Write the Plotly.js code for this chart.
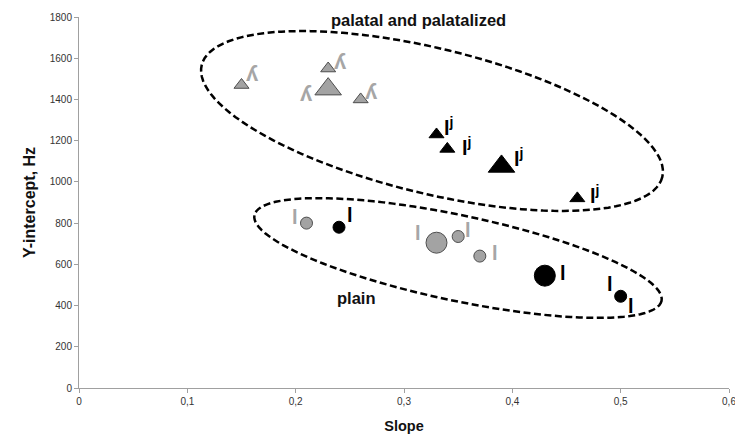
<!DOCTYPE html>
<html><head><meta charset="utf-8">
<script src="https://cdn.plot.ly/plotly-3.0.1.min.js"></script>
<style>html,body{margin:0;padding:0;background:#fff}#chart{width:735px;height:436px}</style>
</head><body><div id="chart"></div>
<script>
// ---- data (slope, y-intercept in Hz) ----
const palatalSlope = [0.15, 0.23, 0.26];
const palatalIntercept = [1470, 1550, 1400];
const palatalMeanSlope = [0.23];
const palatalMeanIntercept = [1450];

const palatalizedSlope = [0.33, 0.34, 0.46];
const palatalizedIntercept = [1230, 1160, 920];
const palatalizedMeanSlope = [0.39];
const palatalizedMeanIntercept = [1075];

const plainGreySlope = [0.21, 0.35, 0.37];
const plainGreyIntercept = [800, 735, 640];
const plainGreyMeanSlope = [0.33];
const plainGreyMeanIntercept = [705];

const plainBlackSlope = [0.24, 0.50];
const plainBlackIntercept = [780, 445];
const plainBlackMeanSlope = [0.43];
const plainBlackMeanIntercept = [545];

const xTickVals = [0, 0.1, 0.2, 0.3, 0.4, 0.5, 0.6];
const yTickVals = [0, 200, 400, 600, 800, 1000, 1200, 1400, 1600, 1800];

const labelPalatal = 'ʎ';
const labelPalatalized = 'l<sup>j</sup>';
const labelPlain = 'l';

// ---- styles ----
const W = 735, H = 436;
const M = {l: 79, r: 6, t: 17, b: 48};
const XR = [0, 0.6], YR = [0, 1800];
const GREY_TXT = '#a6a6a6';
const GREY_FILL = '#a3a3a3';
const GREY_LINE = '#4d4d4d';
const FAM = 'Liberation Sans, Arial, DejaVu Sans, sans-serif';
const LABEL_FONT = {family: FAM, size: 20, weight: 'bold'};

function px2x(px) { return XR[0] + (px - M.l) / (W - M.l - M.r) * (XR[1] - XR[0]); }
function px2y(py) { return YR[0] + (H - M.b - py) / (H - M.t - M.b) * (YR[1] - YR[0]); }

function ellipsePath(cx, cy, a, b, deg) {
  const t = deg * Math.PI / 180, n = 120;
  let d = '';
  for (let i = 0; i <= n; i++) {
    const u = 2 * Math.PI * i / n;
    const ex = a * Math.cos(u), ey = b * Math.sin(u);
    const px = cx + ex * Math.cos(t) - ey * Math.sin(t);
    const py = cy + ex * Math.sin(t) + ey * Math.cos(t);
    d += (i === 0 ? 'M' : 'L') + px2x(px).toFixed(5) + ',' + px2y(py).toFixed(2);
  }
  return d + 'Z';
}

function tri(x, y, size, fill, line) {
  return {x, y, type: 'scatter', mode: 'markers', hoverinfo: 'skip', showlegend: false,
    marker: {symbol: 'triangle-up', size, color: fill, line: {color: line, width: 1}}};
}
function circ(x, y, size, fill, line) {
  return {x, y, type: 'scatter', mode: 'markers', hoverinfo: 'skip', showlegend: false,
    marker: {symbol: 'circle', size, color: fill, line: {color: line, width: 1}}};
}

const data = [
  tri(palatalSlope, palatalIntercept, 13, GREY_FILL, GREY_LINE),
  tri(palatalMeanSlope, palatalMeanIntercept, 23, GREY_FILL, GREY_LINE),
  tri(palatalizedSlope, palatalizedIntercept, 13, '#000', '#000'),
  tri(palatalizedMeanSlope, palatalizedMeanIntercept, 23, '#000', '#000'),
  circ(plainGreySlope, plainGreyIntercept, 12, GREY_FILL, GREY_LINE),
  circ(plainGreyMeanSlope, plainGreyMeanIntercept, 21, GREY_FILL, GREY_LINE),
  circ(plainBlackSlope, plainBlackIntercept, 12, '#000', '#000'),
  circ(plainBlackMeanSlope, plainBlackMeanIntercept, 21, '#000', '#000')
];

// label offsets in px (dx right, dy down) per point
const annotations = [];
function addLabels(xs, ys, text, color, offsets, size) {
  offsets.forEach((o) => {
    annotations.push({x: xs[o[0]], y: ys[o[0]], xref: 'x', yref: 'y', text, showarrow: false,
      xshift: o[1], yshift: -o[2], xanchor: 'center', yanchor: 'middle',
      font: Object.assign({}, LABEL_FONT, {color, size: size || LABEL_FONT.size})});
  });
}
addLabels(palatalSlope, palatalIntercept, labelPalatal, GREY_TXT, [[0, 11, -12], [1, 12, -7], [2, 11, -8]], 22);
addLabels(palatalMeanSlope, palatalMeanIntercept, labelPalatal, GREY_TXT, [[0, -22, 4]], 22);
addLabels(palatalizedSlope, palatalizedIntercept, labelPalatalized, '#000', [[0, 12, -8], [1, 19, -2], [2, 17, -4]]);
addLabels(palatalizedMeanSlope, palatalizedMeanIntercept, labelPalatalized, '#000', [[0, 17, -9]]);
addLabels(plainGreySlope, plainGreyIntercept, labelPlain, GREY_TXT, [[0, -12, -6], [1, 10, -7], [2, 15, -3]]);
addLabels(plainGreyMeanSlope, plainGreyMeanIntercept, labelPlain, GREY_TXT, [[0, -19, -10]]);
addLabels(plainBlackSlope, plainBlackIntercept, labelPlain, '#000', [[0, 11, -12], [1, -11, -12], [1, 10, 10]]);
addLabels(plainBlackMeanSlope, plainBlackMeanIntercept, labelPlain, '#000', [[0, 18, -3]]);

const GROUP_FONT = {family: FAM, size: 16.5, weight: 'bold', color: '#111'};
annotations.push({x: px2x(418), y: px2y(20), xref: 'x', yref: 'y', text: 'palatal and palatalized',
  showarrow: false, xanchor: 'center', yanchor: 'middle', font: GROUP_FONT});
annotations.push({x: px2x(356), y: px2y(298), xref: 'x', yref: 'y', text: 'plain',
  showarrow: false, xanchor: 'center', yanchor: 'middle', font: GROUP_FONT});

const shapes = [
  {type: 'path', xref: 'x', yref: 'y', path: ellipsePath(432, 121, 237, 72.5, 13.65),
   line: {color: '#000', width: 2.5, dash: '7px,3.5px'}, fillcolor: 'rgba(0,0,0,0)'},
  {type: 'path', xref: 'x', yref: 'y', path: ellipsePath(458, 258, 208, 42.7, 11.9),
   line: {color: '#000', width: 2.5, dash: '7px,3.5px'}, fillcolor: 'rgba(0,0,0,0)'}
];

const axisCommon = {showgrid: false, zeroline: false, showline: true, linecolor: '#a0a0a0', linewidth: 1,
  ticks: 'outside', ticklen: 4, tickcolor: '#a0a0a0', ticklabeloverflow: 'allow',
  tickfont: {family: FAM, size: 10, color: '#333'}};

const layout = {
  width: W, height: H, margin: M, paper_bgcolor: '#fff', plot_bgcolor: '#fff',
  separators: ', ', showlegend: false,
  xaxis: Object.assign({}, axisCommon, {range: XR, tickvals: xTickVals, automargin: false,
    title: {text: 'Slope', standoff: 14, font: {family: FAM, size: 14.5, weight: 'bold', color: '#111'}}}),
  yaxis: Object.assign({}, axisCommon, {range: YR, tickvals: yTickVals, automargin: false,
    title: {text: 'Y-intercept, Hz', standoff: 10, font: {family: FAM, size: 16, weight: 'bold', color: '#111'}}}),
  annotations, shapes
};

Plotly.newPlot('chart', data, layout, {staticPlot: true, displayModeBar: false});
</script></body></html>
